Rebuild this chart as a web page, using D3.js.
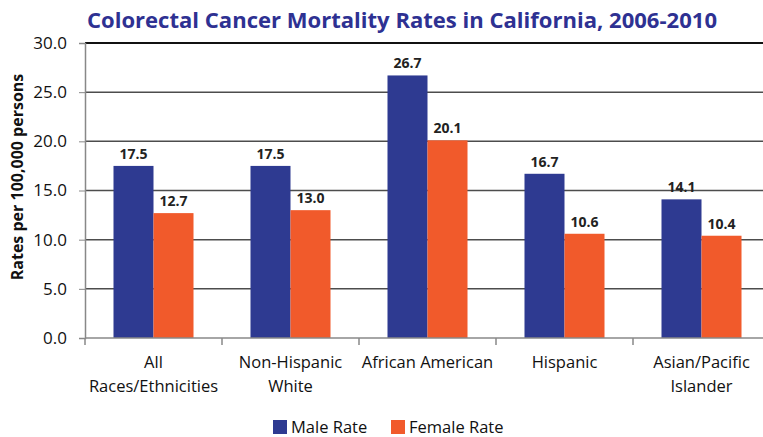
<!DOCTYPE html>
<html>
<head>
<meta charset="utf-8">
<script src="https://cdn.jsdelivr.net/npm/d3@7"></script>
<style>
  body { margin: 0; background: #fff; }
  text { font-family: "Open Sans", "Noto Sans", sans-serif; }
</style>
</head>
<body>
<div id="chart"></div>
<script>
(function () {

// data
const categories = ["All|Races/Ethnicities", "Non-Hispanic|White", "African American", "Hispanic", "Asian/Pacific|Islander"];
const seriesNames = ["Male Rate", "Female Rate"];
const maleRate = [17.5, 17.5, 26.7, 16.7, 14.1];
const femaleRate = [12.7, 13.0, 20.1, 10.6, 10.4];
const yTicks = [0, 5, 10, 15, 20, 25, 30];
const colors = ["#2E3A91", "#F15A2B"];

const width = 763, height = 437;

const svg = d3.select("#chart").append("svg")
    .attr("width", width)
    .attr("height", height);

// scales
const x0 = d3.scaleBand()
    .domain(categories)
    .range([85, 770])
    .paddingInner(0.416)
    .paddingOuter(0.208);

const x1 = d3.scaleBand()
    .domain(seriesNames)
    .range([0, x0.bandwidth()]);

const y = d3.scaleLinear().domain([0, 30]).range([338, 43]);

// gridlines
svg.append("g").selectAll("line")
  .data(yTicks.filter(d => d > 0))
  .join("line")
    .attr("x1", 85).attr("x2", width)
    .attr("y1", d => y(d)).attr("y2", d => y(d))
    .attr("stroke", d => d === 30 ? "#111" : "#4d4d4d")
    .attr("stroke-width", d => d === 30 ? 2 : 1.5);

// y axis
const yAxis = svg.append("g")
    .attr("transform", "translate(85,0)")
    .call(d3.axisLeft(y).tickValues(yTicks).tickFormat(d3.format(".1f")).tickSize(6).tickPadding(12));
yAxis.select(".domain").attr("stroke", "#888").attr("stroke-width", 1.5);
yAxis.selectAll(".tick line").attr("stroke", "#888");
yAxis.selectAll(".tick text").attr("font-size", 17).attr("fill", "#111")
    .style("font-family", "'Open Sans', sans-serif");

// bars
const rows = categories.map((c, i) => ({cat: c, values: [maleRate[i], femaleRate[i]]}));

const groups = svg.append("g").selectAll("g")
  .data(rows)
  .join("g")
    .attr("transform", d => "translate(" + x0(d.cat) + ",0)");

groups.selectAll("rect")
  .data(d => d.values.map((v, j) => ({name: seriesNames[j], value: v, j: j})))
  .join("rect")
    .attr("x", d => x1(d.name))
    .attr("width", x1.bandwidth())
    .attr("y", d => y(d.value))
    .attr("height", d => y(0) - y(d.value))
    .attr("fill", d => colors[d.j]);

// value labels
groups.selectAll("text")
  .data(d => d.values.map((v, j) => ({name: seriesNames[j], value: v})))
  .join("text")
    .attr("x", d => x1(d.name) + x1.bandwidth() / 2)
    .attr("y", d => y(d.value) - 7)
    .attr("text-anchor", "middle")
    .attr("font-size", 14)
    .attr("font-weight", "bold")
    .attr("fill", "#222")
    .text(d => d.value.toFixed(1));

// x axis line + ticks at band boundaries
svg.append("line")
    .attr("x1", 85).attr("x2", width)
    .attr("y1", y(0)).attr("y2", y(0))
    .attr("stroke", "#888").attr("stroke-width", 1.5);

const step = x0.step();
svg.append("g").selectAll("line")
  .data(categories)
  .join("line")
    .attr("x1", d => x0(d) - step * 0.208).attr("x2", d => x0(d) - step * 0.208)
    .attr("y1", y(0)).attr("y2", y(0) + 7)
    .attr("stroke", "#888").attr("stroke-width", 1.5);

// category labels
svg.append("g").selectAll("text")
  .data(categories)
  .join("text")
    .attr("x", d => x0(d) + x0.bandwidth() / 2)
    .attr("y", 368)
    .attr("text-anchor", "middle")
    .attr("font-size", 16.5)
    .attr("fill", "#111")
    .each(function (d) {
      const parts = d.split("|");
      d3.select(this).selectAll("tspan")
        .data(parts)
        .join("tspan")
          .attr("x", x0(d) + x0.bandwidth() / 2)
          .attr("dy", (p, i) => i === 0 ? 0 : 24)
          .text(p => p);
    });

// y axis title
svg.append("text")
    .attr("transform", "translate(23,177) rotate(-90)")
    .attr("text-anchor", "middle")
    .attr("font-size", 16)
    .attr("font-weight", "bold")
    .attr("fill", "#111")
    .text("Rates per 100,000 persons");

// title
svg.append("text")
    .attr("x", 402)
    .attr("y", 28)
    .attr("text-anchor", "middle")
    .attr("font-size", 21)
    .attr("font-weight", "bold")
    .attr("fill", "#2E3192")
    .attr("textLength", 630)
    .attr("lengthAdjust", "spacingAndGlyphs")
    .text("Colorectal Cancer Mortality Rates in California, 2006-2010");

// legend
const legendX = [273, 391];
const legend = svg.append("g").selectAll("g")
  .data(seriesNames)
  .join("g")
    .attr("transform", (d, i) => "translate(" + legendX[i] + ",420)");
legend.append("rect")
    .attr("width", 14).attr("height", 14)
    .attr("fill", (d, i) => colors[i]);
legend.append("text")
    .attr("x", 18).attr("y", 13)
    .attr("font-size", 16.5)
    .attr("fill", "#111")
    .text(d => d);

})()
</script>
</body>
</html>
